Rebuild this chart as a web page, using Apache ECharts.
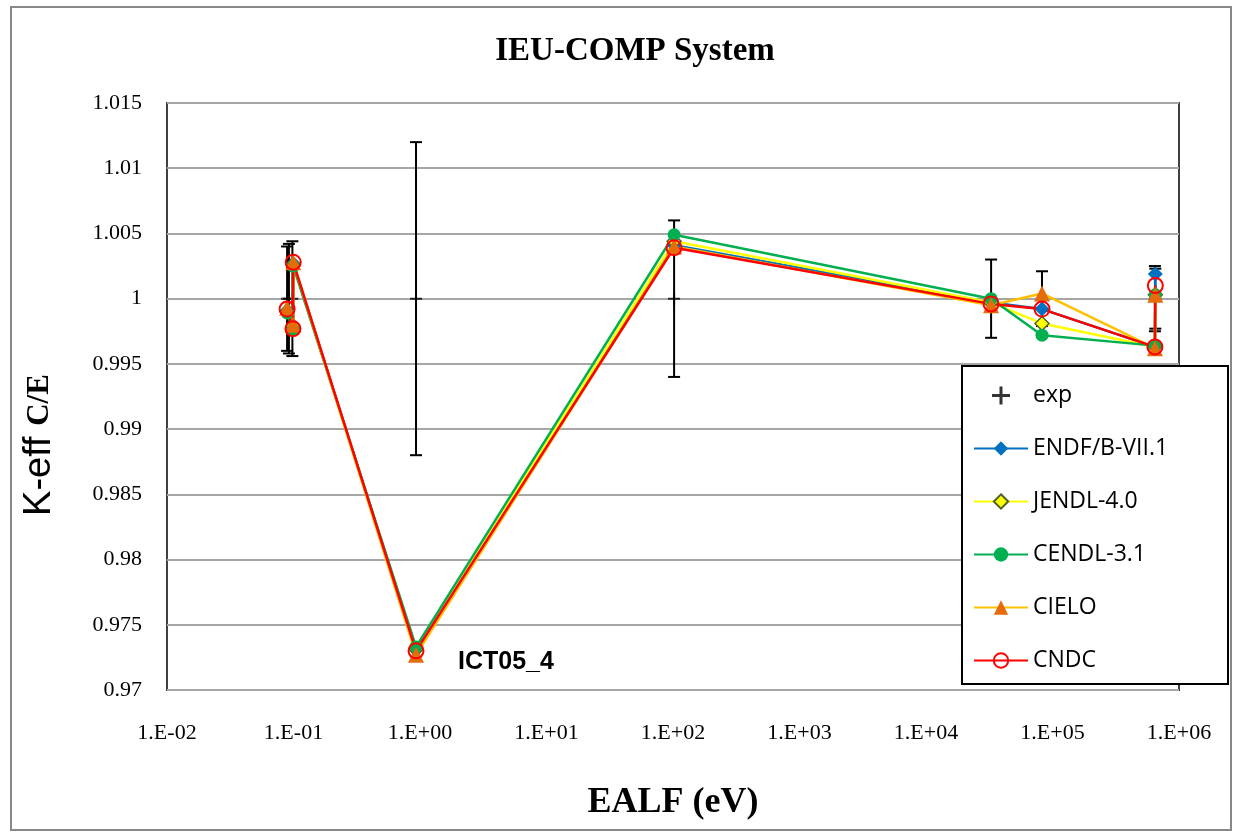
<!DOCTYPE html>
<html><head><meta charset="utf-8">
<script src="https://cdn.jsdelivr.net/npm/echarts@6/dist/echarts.min.js"></script>
<style>html,body{margin:0;padding:0;background:#fff}#c{width:1236px;height:837px}</style>
</head><body><div id="c"></div>
<script>
// EALF (eV) of benchmark points
const modelEalf = [0.089, 0.099, 0.0995, 0.93, 102, 3.27e4, 8.26e4, 6.45e5, 6.5e5];
const endf  = [0.9991, 0.9977, 1.0027, 0.9731, 1.0041, 0.9997, 0.9992, 0.9963, 1.0019];
const jendl = [0.9990, 0.9979, 1.0026, 0.9731, 1.0044, 0.9997, 0.9981, 0.9963, 1.0003];
const cendl = [0.9989, 0.9976, 1.0025, 0.9733, 1.0049, 1.0000, 0.9972, 0.9964, 1.0003];
const cielo = [0.9993, 0.9980, 1.0028, 0.9727, 1.0040, 0.9995, 1.0004, 0.9962, 1.0003];
const cndc  = [0.9992, 0.9977, 1.0028, 0.9730, 1.0039, 0.9996, 0.9992, 0.9963, 1.0010];
// experiment
const expEalf = [0.089, 0.092, 0.098, 0.93, 102, 3.27e4, 8.26e4, 6.45e5, 6.5e5];
const expVal  = [1, 1, 1, 1, 1, 1, 1, 1, 1];
const expErr  = [0.0040, 0.0042, 0.0044, 0.012, 0.006, 0.003, 0.0021, 0.0025, 0.0023];
const yTicks = ['0.97','0.975','0.98','0.985','0.99','0.995','1','1.005','1.01','1.015'];

const pair = (xs, ys) => xs.map((x, i) => [x, ys[i]]);
const plusPath = 'path://M5,0 L7,0 L7,5 L12,5 L12,7 L7,7 L7,12 L5,12 L5,7 L0,7 L0,5 L5,5 Z';

const chart = echarts.init(document.getElementById('c'));
const serif = 'Liberation Serif';
chart.setOption({
  backgroundColor: '#fff',
  animation: false,
  title: {
    text: 'IEU-COMP System', left: 630, top: 30, textAlign: 'center',
    textStyle: {fontFamily: serif, fontWeight: 'bold', fontSize: 33, color: '#000'}
  },
  grid: {left: 167, right: 57, top: 103, bottom: 147, show: true, borderColor: '#404040', borderWidth: 2},
  xAxis: {
    type: 'log', logBase: 10, min: 0.01, max: 1e6,
    axisLine: {show: false}, axisTick: {show: false}, splitLine: {show: false},
    axisLabel: {
      margin: 32, fontFamily: serif, fontSize: 22, color: '#000',
      formatter: v => { const e = Math.round(Math.log10(v)); return '1.E' + (e < 0 ? '-' : '+') + String(Math.abs(e)).padStart(2, '0'); }
    },
    name: 'EALF (eV)', nameLocation: 'middle', nameGap: 95,
    nameTextStyle: {fontFamily: serif, fontWeight: 'bold', fontSize: 36, color: '#000'}
  },
  yAxis: {
    type: 'value', min: 0.97, max: 1.015, interval: 0.005,
    axisLine: {show: false}, axisTick: {show: false},
    splitLine: {lineStyle: {color: '#A6A6A6', width: 2}},
    axisLabel: {
      margin: 25, fontFamily: serif, fontSize: 22, color: '#000',
      formatter: v => yTicks.find(t => Math.abs(parseFloat(t) - v) < 1e-6) || ''
    }
  },
  legend: {
    orient: 'vertical', left: 968, top: 379, itemWidth: 54, itemHeight: 18, itemGap: 30,
    textStyle: {fontFamily: 'Open Sans', fontSize: 23, color: '#000'},
    data: [
      {name: 'exp', icon: plusPath, itemStyle: {color: '#000'}},
      'ENDF/B-VII.1', 'JENDL-4.0', 'CENDL-3.1', 'CIELO', 'CNDC'
    ]
  },
  graphic: [
    {type: 'rect', z: 3, shape: {x: 962, y: 366, width: 266, height: 318}, style: {fill: '#fff', stroke: '#000', lineWidth: 2}},
    {type: 'rect', z: 0, shape: {x: 11, y: 7, width: 1220, height: 823}, style: {fill: 'none', stroke: '#888', lineWidth: 2}},
    {type: 'text', x: 40, y: 445, rotation: Math.PI / 2, z: 10,
      style: {text: '{a|K-eff }{b|C/E}', align: 'center', verticalAlign: 'middle',
        rich: {a: {fontFamily: 'Liberation Sans', fontSize: 38, fill: '#000'},
               b: {fontFamily: serif, fontWeight: 'bold', fontSize: 31, fill: '#000'}}}},
    {type: 'text', x: 458, y: 662, z: 10,
      style: {text: 'ICT05_4', align: 'left', verticalAlign: 'middle', fontFamily: 'Liberation Sans', fontWeight: 'bold', fontSize: 25, fill: '#000'}}
  ],
  series: [
    {
      name: 'expErr', type: 'custom', z: 1,
      data: expEalf.map((x, i) => [x, expVal[i], expErr[i]]),
      encode: {x: 0, y: 1},
      renderItem: (params, api) => {
        const x = api.value(0), y = api.value(1), e = api.value(2);
        const t = api.coord([x, y + e]), b = api.coord([x, y - e]);
        const st = {stroke: '#000', lineWidth: 2};
        return {type: 'group', children: [
          {type: 'line', shape: {x1: t[0], y1: t[1], x2: b[0], y2: b[1]}, style: st},
          {type: 'line', shape: {x1: t[0] - 6, y1: t[1], x2: t[0] + 6, y2: t[1]}, style: st},
          {type: 'line', shape: {x1: b[0] - 6, y1: b[1], x2: b[0] + 6, y2: b[1]}, style: st}
        ]};
      }
    },
    {name: 'exp', type: 'scatter', z: 1, symbol: plusPath, symbolSize: 12, itemStyle: {color: '#000'},
      data: pair(expEalf, expVal)},
    {name: 'ENDF/B-VII.1', type: 'line', data: pair(modelEalf, endf), symbol: 'diamond', symbolSize: 15,
      lineStyle: {color: '#0070C0', width: 2.5}, itemStyle: {color: '#0070C0'}},
    {name: 'JENDL-4.0', type: 'line', data: pair(modelEalf, jendl), symbol: 'diamond', symbolSize: 14,
      lineStyle: {color: '#FFFF00', width: 2.5}, itemStyle: {color: '#FFFF00', borderColor: '#4F6228', borderWidth: 1.5}},
    {name: 'CENDL-3.1', type: 'line', data: pair(modelEalf, cendl), symbol: 'circle', symbolSize: 13,
      lineStyle: {color: '#00B050', width: 2.5}, itemStyle: {color: '#00B050'}},
    {name: 'CIELO', type: 'line', data: pair(modelEalf, cielo), symbol: 'triangle', symbolSize: 16,
      lineStyle: {color: '#FFC000', width: 2.5}, itemStyle: {color: '#E46C0A'}},
    {name: 'CNDC', type: 'line', data: pair(modelEalf, cndc), symbol: 'circle', symbolSize: 15,
      lineStyle: {color: '#FF0000', width: 2.5}, itemStyle: {color: 'rgba(255,255,255,0)', borderColor: '#FF0000', borderWidth: 2}}
  ]
});
</script></body></html>
